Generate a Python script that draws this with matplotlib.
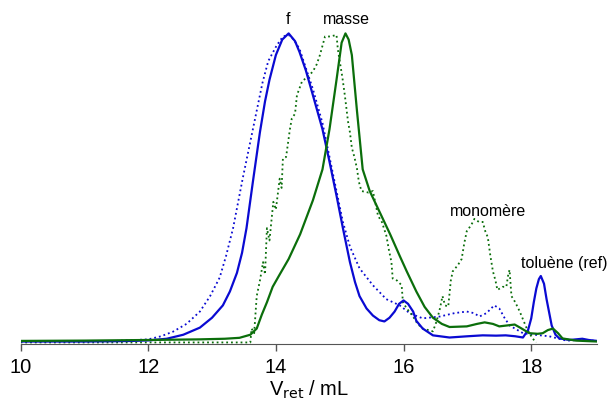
import matplotlib
matplotlib.use("Agg")
import matplotlib.pyplot as plt

plt.rcParams['font.family'] = ['Liberation Sans', 'DejaVu Sans']

# f (solid blue)
f_x = [10.0, 11.0, 11.5, 11.76, 12.03, 12.29, 12.55, 12.81, 13.0, 13.17, 13.28, 13.39, 13.47, 13.54,
       13.64, 13.75, 13.83, 13.9, 14.0, 14.1, 14.2, 14.3, 14.37, 14.47, 14.58, 14.73, 14.84,
       14.95, 15.05, 15.16, 15.24, 15.31, 15.42, 15.52, 15.62, 15.7, 15.78, 15.86, 15.93, 16.0,
       16.07, 16.15, 16.2, 16.3, 16.46, 16.72, 17.0, 17.24, 17.45, 17.6, 17.75, 17.87, 17.95,
       18.0, 18.04, 18.08, 18.12, 18.15, 18.2, 18.24, 18.32, 18.38, 18.44, 18.6, 18.8, 18.9, 19.03]
f_y = [0.003, 0.003, 0.004, 0.005, 0.007, 0.012, 0.025, 0.048, 0.08, 0.12, 0.165, 0.225, 0.29, 0.37,
       0.52, 0.68, 0.78, 0.85, 0.93, 0.98, 1.0, 0.975, 0.94, 0.88, 0.80, 0.69, 0.585,
       0.475, 0.37, 0.26, 0.195, 0.15, 0.11, 0.087, 0.072, 0.068, 0.08, 0.10, 0.125, 0.136,
       0.125, 0.10, 0.07, 0.045, 0.023, 0.016, 0.02, 0.023, 0.022, 0.023, 0.02, 0.016, 0.04,
       0.078, 0.13, 0.175, 0.205, 0.215, 0.19, 0.14, 0.055, 0.025, 0.013, 0.008, 0.012, 0.008, 0.005]

# f (dotted blue)
fd_x = [10.0, 11.5, 12.0, 12.2, 12.39, 12.6, 12.81, 12.97, 13.12, 13.22, 13.33, 13.48, 13.64,
        13.79, 13.88, 14.01, 14.11, 14.2, 14.28, 14.37, 14.58, 14.73, 14.84, 14.95, 15.05, 15.16,
        15.31, 15.52, 15.73, 15.94, 16.1, 16.3, 16.57, 16.8, 16.99, 17.1, 17.19, 17.3, 17.42,
        17.5, 17.58, 17.66, 17.87, 18.05, 18.28, 18.55, 18.8, 19.03]
fd_y = [0.003, 0.005, 0.01, 0.02, 0.035, 0.06, 0.10, 0.15, 0.21, 0.28, 0.37, 0.53, 0.69,
        0.84, 0.91, 0.96, 0.99, 0.995, 0.98, 0.95, 0.82, 0.71, 0.60, 0.49, 0.39, 0.31,
        0.24, 0.185, 0.14, 0.12, 0.094, 0.078, 0.084, 0.095, 0.10, 0.095, 0.084, 0.095, 0.12,
        0.11, 0.08, 0.055, 0.03, 0.025, 0.02, 0.006, 0.008, 0.005]

# masse (solid green)
m_x = [10.0, 11.0, 12.0, 12.8, 13.2, 13.43, 13.6, 13.7, 13.78, 13.86, 13.95, 14.06, 14.2,
       14.38, 14.58, 14.73, 14.84, 14.95, 15.03, 15.09, 15.14, 15.19, 15.27, 15.36, 15.47,
       15.63, 15.79, 15.94, 16.05, 16.2, 16.33, 16.46, 16.6, 16.72, 16.99, 17.15, 17.27, 17.4,
       17.5, 17.62, 17.74, 17.85, 17.97, 18.1, 18.18, 18.26, 18.34, 18.42, 18.49, 18.7, 19.03]
m_y = [0.005, 0.006, 0.008, 0.01, 0.012, 0.015, 0.025, 0.045, 0.09, 0.13, 0.18, 0.22, 0.27,
       0.35, 0.46, 0.56, 0.69, 0.85, 0.97, 1.0, 0.98, 0.93, 0.75, 0.56, 0.49,
       0.42, 0.35, 0.28, 0.23, 0.165, 0.115, 0.08, 0.06, 0.05, 0.052, 0.06, 0.065, 0.06,
       0.052, 0.055, 0.058, 0.045, 0.03, 0.028, 0.03, 0.04, 0.045, 0.03, 0.013, 0.006, 0.003]

# masse (dotted green)
md_x = [10.0, 13.55, 13.6, 13.62, 13.66, 13.7, 13.75, 13.8, 13.83, 13.86, 13.9, 13.96, 14.0,
        14.06, 14.09, 14.11, 14.16, 14.2, 14.22, 14.25, 14.3, 14.33, 14.41, 14.5, 14.58, 14.64,
        14.69, 14.73, 14.77, 14.85, 14.95, 14.97, 15.0, 15.04, 15.08, 15.13, 15.16, 15.19,
        15.23, 15.27, 15.3, 15.34, 15.45, 15.52, 15.56, 15.6, 15.66, 15.73, 15.77, 15.81,
        15.83, 15.9, 15.97, 15.99, 16.05, 16.14, 16.22, 16.3, 16.46, 16.52, 16.57, 16.61,
        16.65, 16.7, 16.74, 16.77, 16.85, 16.91, 16.95, 16.99, 17.06, 17.11, 17.18, 17.24,
        17.28, 17.32, 17.36, 17.4, 17.44, 17.47, 17.55, 17.61, 17.64, 17.66, 17.69, 17.75,
        17.82, 17.88, 17.93, 18.02, 18.08]
md_y = [0.0, 0.0, 0.0, 0.045, 0.03, 0.15, 0.2, 0.26, 0.22, 0.37, 0.33, 0.455, 0.43,
        0.53, 0.50, 0.595, 0.60, 0.66, 0.69, 0.725, 0.74, 0.80, 0.845, 0.86, 0.877, 0.90,
        0.93, 0.96, 0.99, 0.99, 0.995, 0.95, 0.91, 0.86, 0.80, 0.715, 0.68, 0.63,
        0.60, 0.563, 0.52, 0.49, 0.485, 0.49, 0.45, 0.41, 0.39, 0.346, 0.30, 0.26,
        0.207, 0.20, 0.185, 0.13, 0.11, 0.087, 0.06, 0.045, 0.036, 0.07, 0.11, 0.15,
        0.12, 0.116, 0.2, 0.23, 0.25, 0.27, 0.32, 0.36, 0.38, 0.40, 0.39, 0.39,
        0.36, 0.34, 0.28, 0.23, 0.2, 0.17, 0.18, 0.18, 0.22, 0.235, 0.15, 0.13,
        0.10, 0.07, 0.045, 0.013, 0.0]

xticks = [10, 12, 14, 16, 18]
labels = ["f", "masse", "monomère", "toluène (ref)"]
label_x = [14.19, 15.11, 17.32, 18.52]
label_y = [1.03, 1.03, 0.41, 0.24]

blue = '#0a0ad2'
green = '#0b6e0b'

fig = plt.figure(figsize=(6.07, 4.0), dpi=100)
ax = fig.add_axes([20.5/607, 56/400, (597-20.5)/607, 324.5/400])

ax.plot(fd_x, fd_y, color=blue, lw=1.3, ls=':')
ax.plot(md_x, md_y, color=green, lw=1.3, ls=':')
ax.plot(f_x, f_y, color=blue, lw=1.6)
ax.plot(m_x, m_y, color=green, lw=1.6)

for t, x, y in zip(labels, label_x, label_y):
    ax.text(x, y, t, ha='center', va='baseline', fontsize=11.5)

ax.set_xlim(10, 19.03)
ax.set_ylim(-0.005, 1.045)
ax.set_xticks(xticks)
ax.set_xticklabels([str(t) for t in xticks], fontsize=14.5)
ax.set_yticks([])
for s in ['left', 'right', 'top']:
    ax.spines[s].set_visible(False)
ax.spines['bottom'].set_color('#555555')
ax.tick_params(axis='x', direction='out', length=5, width=1, color='#555555', pad=5)
ax.set_xlabel("V$_{\\mathrm{ret}}$ / mL", fontsize=14.5, labelpad=1)

fig.savefig("out.png", dpi=100)
